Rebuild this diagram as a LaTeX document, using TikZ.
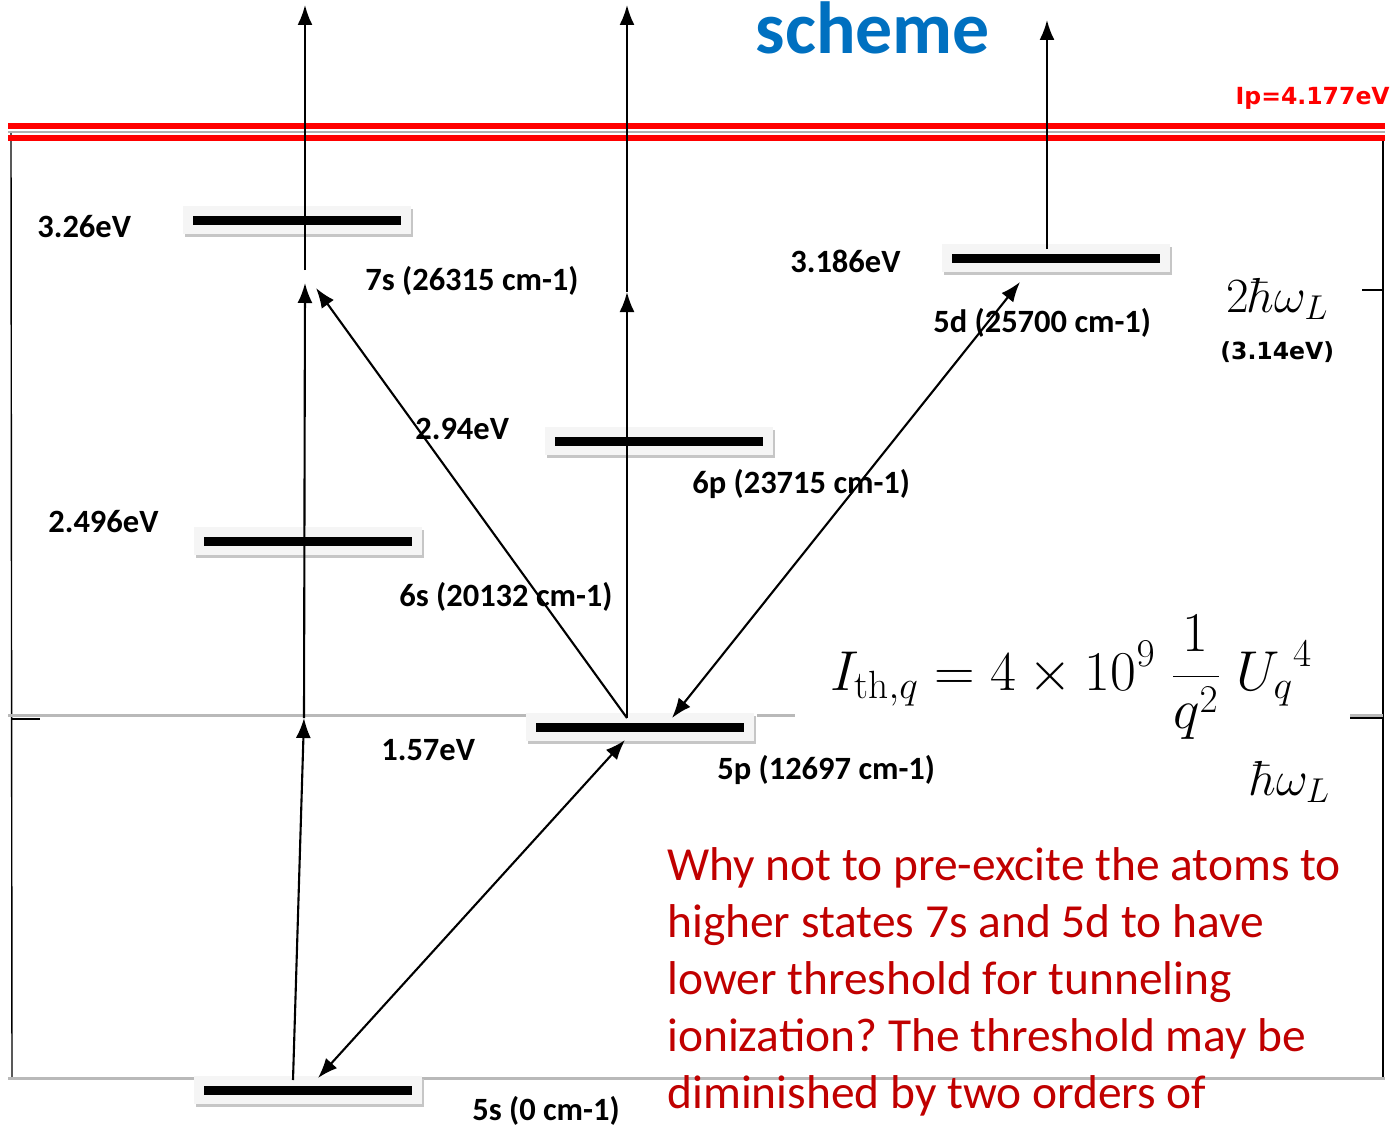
\RequirePackage{fix-cm}
\documentclass[tikz,border=0pt]{standalone}
\usepackage{fontspec}
\newfontfamily\calibri{Carlito}
\newfontfamily\verdana{DejaVu Sans}
\usetikzlibrary{arrows.meta,shadows}
\definecolor{ipred}{RGB}{255,0,0}
\definecolor{askred}{RGB}{192,0,0}
\definecolor{titleblue}{RGB}{0,112,192}
\newcommand\pxu{0.02cm}
\frenchspacing

\begin{document}
\begin{tikzpicture}[
  x=0.02cm, y=-0.02cm,
  lvlbg/.style={
    fill=gray!8, minimum width=228*\pxu, minimum height=28*\pxu,
    inner sep=0pt,
    drop shadow={shadow xshift=1.2pt, shadow yshift=-1.8pt, fill=gray!45, opacity=1},
  },
  bar/.style={fill=black, minimum width=208*\pxu, minimum height=9*\pxu, inner sep=0pt},
  frame/.style={black, line width=0.8pt},
  floor/.style={gray!55, line width=1.7pt},
  ipline/.style={ipred, line width=3.8pt},
  trans/.style={black, line width=1.2pt, -{Latex[length=0.4cm, width=0.3cm]}},
  both/.style={trans, {Latex[length=0.4cm, width=0.3cm]}-{Latex[length=0.4cm, width=0.3cm]}},
  lbl/.style={font=\calibri\bfseries\fontsize{18.5}{22}\selectfont, inner sep=0pt, anchor=base west},
  vlbl/.style={font=\verdana\bfseries\fontsize{13.4}{16}\selectfont, inner sep=0pt},
  mlbl/.style={font=\fontsize{28}{32}\selectfont, inner sep=0pt, anchor=base west},
]

\useasboundingbox (0,0) rectangle (1393,1126);

% ── frame and reference lines ────────────────────────────
\draw[frame] (11,133) -- (12,1078);
\draw[frame] (1383,137) -- (1383,1078);
\draw[floor] (8,1078) -- (1385,1078);
\draw[floor] (8,715) -- (527,715);
\draw[floor] (757,715) -- (795,715);
\draw[floor] (1350,715) -- (1383,715);
\draw[frame] (12,719) -- (40,719);
\draw[frame] (1362,290) -- (1383,290);
\draw[frame] (1350,718) -- (1383,718);

% ── ionization potential ─────────────────────────────────
\draw[gray!60, line width=0.8pt] (8,132) -- (1385,132);
\draw[ipline] (8,126) -- (1385,126);
\draw[ipline] (8,138) -- (1385,138);

% ── levels ───────────────────────────────────────────────
\foreach \n/\x/\y in {s7/297/220, d5/1056/258, p6/659/441, s6/308/541, p5/640/727, s5/308/1090} {
  \node[lvlbg] (\n bg) at (\x,\y) {};
  \node[bar] (\n) at (\x,\y) {};
}

% ── arrow end points ─────────────────────────────────────
\coordinate (s5up) at (293,1080);
\coordinate (mid1) at (304,718);
\coordinate (s7in) at (305,283);
\coordinate (s7up) at (305,270);
\coordinate (top1) at (305,5);
\coordinate (p5up) at (627,718);
\coordinate (mid2) at (627,292);
\coordinate (top2) at (627,5);
\coordinate (d5up) at (1047,249);
\coordinate (top3) at (1047,20);
\coordinate (s7diag) at (316,288);
\coordinate (p5right) at (672,718);
\coordinate (d5diag) at (1020,282);
\coordinate (s5diag) at (318,1078);
\coordinate (p5low) at (625,740);

% ── transitions ──────────────────────────────────────────
\draw[trans] (s5up) -- (mid1);
\draw[trans] (mid1) -- (s7in);
\draw[trans] (s7up) -- (top1);
\draw[trans] (p5up) -- (mid2);
\draw[trans] (mid2) -- (top2);
\draw[trans] (d5up) -- (top3);
\draw[trans] (p5up) -- (s7diag);
\draw[both] (p5right) -- (d5diag);
\draw[both] (s5diag) -- (p5low);

% ── level labels ─────────────────────────────────────────
\node[lbl] (e7s) at (37,237) {3.26eV};
\node[lbl] (n7s) at (365,290) {7s (26315 cm-1)};
\node[lbl] (e5d) at (790,272) {3.186eV};
\node[lbl] (n5d) at (933,332) {5d (25700 cm-1)};
\node[lbl] (e6p) at (415,439) {2.94eV};
\node[lbl] (n6p) at (692,493) {6p (23715 cm-1)};
\node[lbl] (e6s) at (48,532) {2.496eV};
\node[lbl] (n6s) at (399,606) {6s (20132 cm-1)};
\node[lbl] (e5p) at (381,760) {1.57eV};
\node[lbl] (n5p) at (717,779) {5p (12697 cm-1)};
\node[lbl] (n5s) at (472,1120) {5s (0 cm-1)};

% ── photon energies and threshold ────────────────────────
\node[mlbl] (twophoton) at (1226,312) {$2\hbar\omega_L$};
\node[vlbl, anchor=base west] (twoeV) at (1220,359) {(3.14eV)};
\node[mlbl] (onephoton) at (1250,795) {$\hbar\omega_L$};
\node[font=\fontsize{32}{38}\selectfont, inner sep=0pt, anchor=base west] (thresh)
  at (830,690) {$\displaystyle I_{\mathrm{th},q} = 4\times 10^{9}\;\frac{1}{q^{2}}\;{U_q}^{4}$};
\node[vlbl, text=ipred, anchor=base east] (ip) at (1390,104) {Ip=4.177eV};

% ── title and question ───────────────────────────────────
\node[font=\calibri\bfseries\fontsize{42}{50}\selectfont, text=titleblue, inner sep=0pt,
  anchor=base] (title) at (873,53) {scheme};
\node[font=\calibri\fontsize{27}{32.4}\selectfont, text=askred, inner sep=0pt,
  align=left, anchor=base west] (ask) at (667,1108)
  {Why not to pre-excite the atoms to\\
   higher states 7s and 5d to have\\
   lower threshold for tunneling\\
   ionization? The threshold may be\\
   diminished by two orders of};

\end{tikzpicture}
\end{document}
